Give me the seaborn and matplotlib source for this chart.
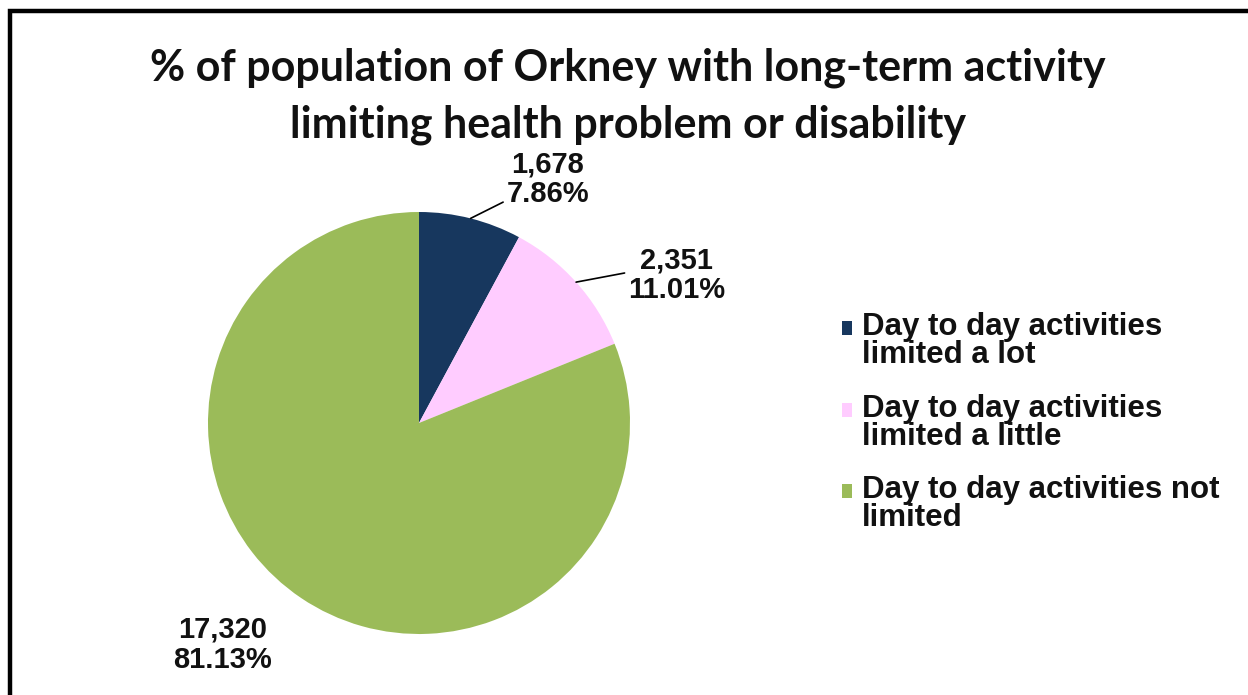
import numpy as np
import seaborn as sns
import matplotlib.pyplot as plt
from matplotlib.patches import Rectangle, Wedge
from matplotlib.legend_handler import HandlerPatch

# data
categories = ['Day to day activities\nlimited a lot',
              'Day to day activities\nlimited a little',
              'Day to day activities not\nlimited']
counts = [1678, 2351, 17320]
colors = ['#17375E', '#FFCCFF', '#9BBB59']
title = '% of population of Orkney with long-term activity\nlimiting health problem or disability'

sns.set_theme(style='white')
plt.rcParams['font.family'] = ['Liberation Sans', 'DejaVu Sans']

W, H = 1248, 695
fig = plt.figure(figsize=(W / 100, H / 100), dpi=100)
fig.patch.set_facecolor('white')

# pie centre ~ (419, 423) px, radius ~ 211 px
r_px = 211
cx, cy = 419, 423
xl, yb, yt = 1.5, 1.25, 1.5
ax = fig.add_axes([(cx - xl * r_px) / W, (H - (cy + yb * r_px)) / H,
                   2 * xl * r_px / W, (yb + yt) * r_px / H])
wedges, _ = ax.pie(counts, colors=colors, startangle=90, counterclock=False,
                   radius=1, wedgeprops=dict(linewidth=0))
ax.set_aspect('auto')
ax.set_xlim(-xl, xl)
ax.set_ylim(-yb, yt)
ax.axis('off')

total = sum(counts)
label_pos = [(0.61, 1.155), (1.22, 0.70), (-0.93, -1.05)]
rel = [(0.02, 0.15), (0.0, 0.55), None]
for w, n, pos, rp in zip(wedges, counts, label_pos, rel):
    mid = np.deg2rad((w.theta1 + w.theta2) / 2)
    txt = f'{n:,}\n{n / total * 100:.2f}%'
    if rp is None:
        ax.text(pos[0], pos[1], txt, ha='center', va='center', fontsize=21,
                fontweight='bold', linespacing=1.1, color='#111111')
    else:
        ax.annotate(txt, xy=(np.cos(mid), np.sin(mid)), xytext=pos,
                    ha='center', va='center', fontsize=21, fontweight='bold',
                    linespacing=1.1, color='#111111',
                    arrowprops=dict(arrowstyle='-', color='black', lw=1.2,
                                    relpos=rp, shrinkA=0, shrinkB=0))

fig.text(0.503, 1 - 96 / H, title, ha='center', va='center', fontsize=31,
         fontweight='bold', family='Lato', linespacing=1.5, color='#111111')


# legend square sits next to the first line of each two-line label
def square(legend, orig_handle, xdescent, ydescent, width, height, fontsize):
    return Rectangle((-xdescent, -ydescent + 0.42 * fontsize), width, height)


leg_fs = 22.5
leg = fig.legend(wedges, categories, loc='upper left',
                 bbox_to_anchor=(842 / W, 1 - 312 / H), frameon=False,
                 borderpad=0, borderaxespad=0,
                 prop=dict(size=leg_fs, weight='bold'), handlelength=0.32,
                 handleheight=0.32, handletextpad=0.32, labelspacing=0.75,
                 handler_map={Wedge: HandlerPatch(patch_func=square)})
for t in leg.get_texts():
    t.set_linespacing(0.92)
    t.set_color('#111111')

# black frame (left and top visible)
fig.patches.append(Rectangle((10 / W, -0.2), 1.5, 1.2 - 11 / H,
                             transform=fig.transFigure, fill=False,
                             edgecolor='black', lw=3.2, clip_on=False))

plt.savefig('out.png', dpi=100)
